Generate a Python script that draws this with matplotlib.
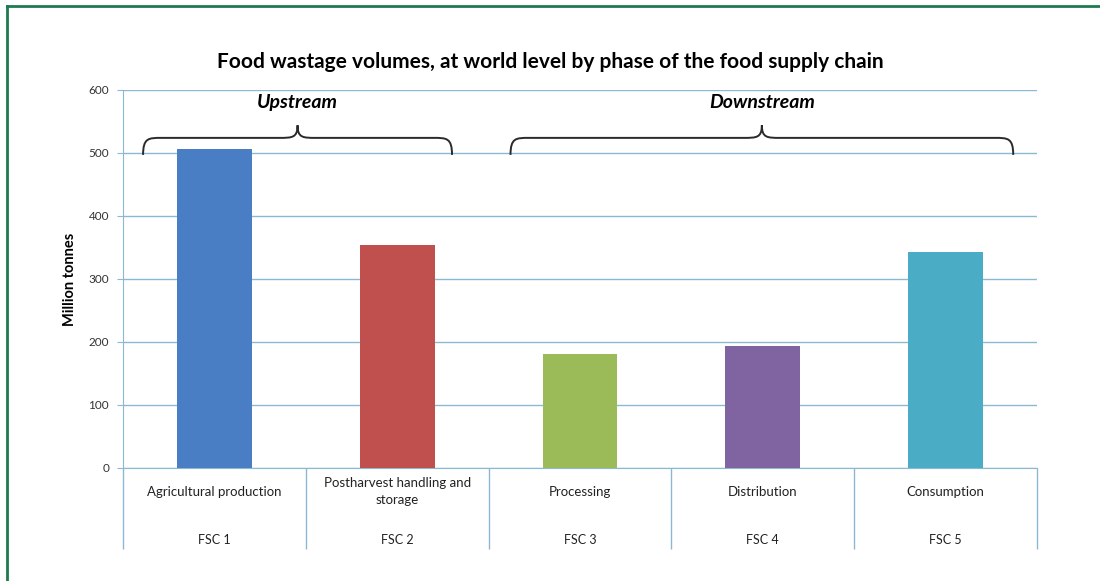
import matplotlib
matplotlib.use("Agg")
import matplotlib.pyplot as plt
from matplotlib.path import Path
from matplotlib.patches import PathPatch

plt.rcParams['font.family'] = ['Lato', 'DejaVu Sans']

phases = ['Agricultural production', 'Postharvest handling and\nstorage',
          'Processing', 'Distribution', 'Consumption']
codes = ['FSC 1', 'FSC 2', 'FSC 3', 'FSC 4', 'FSC 5']
volumes = [506, 354, 181, 194, 343]
colors = ['#4a7ec4', '#c0504d', '#9bbb59', '#8064a2', '#4bacc6']

groups = ['Upstream', 'Downstream']
group_span = [(-0.39, 1.30), (1.62, 4.37)]

grid_col = '#8db8d4'

fig = plt.figure(figsize=(11, 5.81), dpi=100)
ax = fig.add_axes([0.1118, 0.1945, 0.8309, 0.6506])

x = range(len(phases))
ax.bar(x, volumes, width=0.41, color=colors, zorder=3)

ax.set_xlim(-0.5, 4.5)
ax.set_ylim(0, 600)
ax.set_yticks(range(0, 601, 100))
ax.yaxis.grid(True, color=grid_col, lw=1)
ax.set_axisbelow(True)
for s in ['top', 'right']:
    ax.spines[s].set_visible(False)
ax.spines['left'].set_color(grid_col)
ax.spines['bottom'].set_color(grid_col)
ax.tick_params(axis='y', length=4, color=grid_col, labelsize=8.5, labelcolor='#333333', pad=6)

# category separators hanging below the axis
ax.set_xticks([])
ax.set_xticks([i - 0.5 for i in range(len(phases) + 1)], minor=True)
ax.tick_params(axis='x', which='minor', length=58, color=grid_col, width=1)

for i, (p, c) in enumerate(zip(phases, codes)):
    ax.text(i, -38, p, ha='center', va='center', fontsize=9.5, color='#222222',
            clip_on=False, linespacing=1.5)
    ax.text(i, -114, c, ha='center', va='center', fontsize=9, color='#222222', clip_on=False)

ax.set_ylabel('Million tonnes', fontsize=10.5, fontweight='bold', labelpad=8)
fig.text(0.5, 0.893, 'Food wastage volumes, at world level by phase of the food supply chain',
         ha='center', va='center', fontsize=15, fontweight='bold')


def brace(x0, x1, yb=497, ym=524, yt=544, r=0.1):
    xm = (x0 + x1) / 2
    verts = [(x0, yb), (x0, ym), (x0 + r * 0.3, ym), (x0 + r, ym),
             (xm - r, ym),
             (xm - r * 0.3, ym), (xm, ym), (xm, yt),
             (xm, ym), (xm + r * 0.3, ym), (xm + r, ym),
             (x1 - r, ym),
             (x1 - r * 0.3, ym), (x1, ym), (x1, yb)]
    codes_ = [Path.MOVETO, Path.CURVE4, Path.CURVE4, Path.CURVE4,
              Path.LINETO,
              Path.CURVE4, Path.CURVE4, Path.CURVE4,
              Path.CURVE4, Path.CURVE4, Path.CURVE4,
              Path.LINETO,
              Path.CURVE4, Path.CURVE4, Path.CURVE4]
    ax.add_patch(PathPatch(Path(verts, codes_), fill=False, lw=1.4,
                           edgecolor='#2a2a2a', zorder=4, clip_on=False))
    return xm


for g, (a, b) in zip(groups, group_span):
    xm = brace(a, b)
    ax.text(xm, 580, g, ha='center', va='center', fontsize=14,
            fontweight='bold', fontstyle='italic', zorder=5)

# green frame on top and left
fig.add_artist(plt.Line2D([0.0064, 1.0], [0.9897, 0.9897], color='#1f7a4f', lw=2))
fig.add_artist(plt.Line2D([0.0064, 0.0064], [0.0, 0.9897], color='#1f7a4f', lw=2))

fig.savefig('out.png', dpi=100)
